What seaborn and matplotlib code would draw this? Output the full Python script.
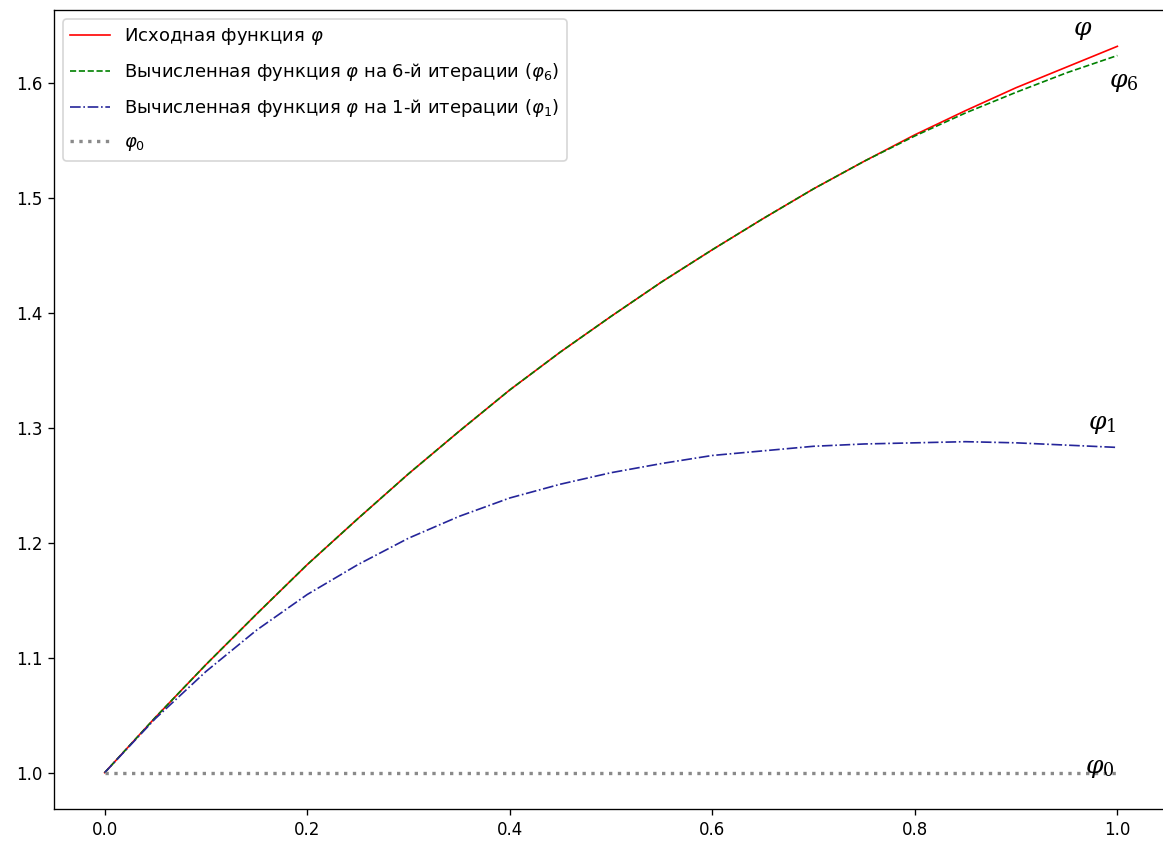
import numpy as np
import pandas as pd
import matplotlib
matplotlib.use("Agg")
import matplotlib.pyplot as plt
import seaborn as sns

# ---- data ----
x_vals = [0.00, 0.05, 0.10, 0.15, 0.20, 0.25, 0.30, 0.35, 0.40, 0.45, 0.50,
          0.55, 0.60, 0.65, 0.70, 0.75, 0.80, 0.85, 0.90, 0.95, 1.00]
phi_exact = [1.000, 1.048, 1.094, 1.138, 1.181, 1.221, 1.260, 1.297, 1.333, 1.366, 1.397,
             1.427, 1.455, 1.482, 1.508, 1.532, 1.555, 1.576, 1.596, 1.614, 1.632]
phi_6 = [1.000, 1.048, 1.094, 1.138, 1.181, 1.221, 1.260, 1.297, 1.333, 1.366, 1.397,
         1.427, 1.455, 1.482, 1.508, 1.532, 1.554, 1.574, 1.592, 1.609, 1.624]
phi_1 = [1.000, 1.047, 1.088, 1.124, 1.155, 1.181, 1.204, 1.223, 1.239, 1.251, 1.261,
         1.269, 1.276, 1.280, 1.284, 1.286, 1.287, 1.288, 1.287, 1.285, 1.283]
phi_0 = [1.000] * len(x_vals)

labels = [r"Исходная функция $\varphi$",
          r"Вычисленная функция $\varphi$ на 6-й итерации ($\varphi_6$)",
          r"Вычисленная функция $\varphi$ на 1-й итерации ($\varphi_1$)",
          r"$\varphi_0$"]
end_texts = [r"$\varphi$", r"$\varphi_6$", r"$\varphi_1$", r"$\varphi_0$"]
end_pos = [(0.966, 1.646), (1.006, 1.601), (0.985, 1.303), (0.983, 1.004)]

# ---- figure ----
fig = plt.figure(figsize=(1163 / 120, 845 / 120), dpi=120)
ax = fig.add_axes([54 / 1163, 1 - 809 / 845, (1168 - 54) / 1163, (809 - 10) / 845])

sns.lineplot(x=x_vals, y=phi_exact, ax=ax, color="red", linestyle="-", linewidth=1.0,
             label=labels[0])
sns.lineplot(x=x_vals, y=phi_6, ax=ax, color="green", linestyle="--", linewidth=1.0,
             label=labels[1])
sns.lineplot(x=x_vals, y=phi_1, ax=ax, color="#25259a", linestyle="-.", linewidth=1.0,
             label=labels[2])
sns.lineplot(x=x_vals, y=phi_0, ax=ax, color="#8a8a8a", linestyle=":", linewidth=2.0,
             label=labels[3])

for txt, (tx, ty) in zip(end_texts, end_pos):
    ax.text(tx, ty, txt, fontsize=15, ha="center", va="center",
            math_fontfamily="dejavuserif", color="black")

ax.legend(loc="upper left", fontsize=10.8, labelspacing=0.78, handlelength=2.2)
ax.set_xlim(-0.05, 1.05)
ax.set_ylim(0.9684, 1.6636)
ax.set_xticks([0.0, 0.2, 0.4, 0.6, 0.8, 1.0])
ax.set_yticks([1.0, 1.1, 1.2, 1.3, 1.4, 1.5, 1.6])

fig.savefig("out.png", dpi=120)
